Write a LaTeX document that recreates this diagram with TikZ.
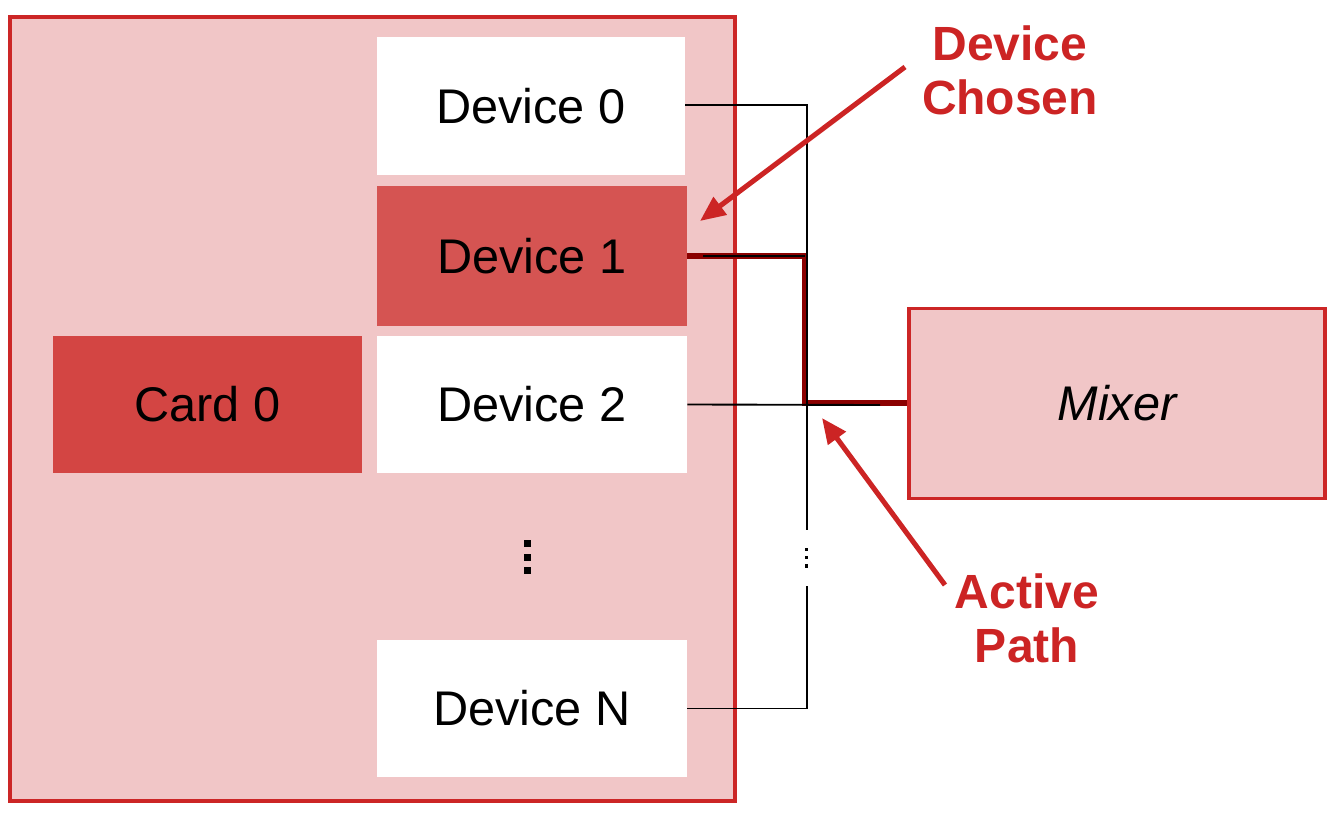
\documentclass[tikz,border=0pt]{standalone}
\usepackage{fontspec}
\setmainfont{Liberation Sans}
\usetikzlibrary{arrows.meta}
\definecolor{pinkbg}{HTML}{F1C6C7}
\definecolor{redline}{HTML}{CC2626}
\definecolor{devsel}{HTML}{D55452}
\definecolor{cardred}{HTML}{D34543}
\definecolor{darkred}{HTML}{8B0000}
\definecolor{labred}{HTML}{CC2424}
\tikzset{
  px/.style={x=0.75pt,y=-0.75pt},
  big/.style={font=\fontsize{36.5}{40}\selectfont},
  frame/.style={draw=redline,line width=2.4pt,fill=pinkbg,inner sep=0pt},
  devbox/.style={fill=white,draw=none,inner sep=0pt,big},
  selbox/.style={fill=devsel,draw=none,inner sep=0pt,big},
  cardbox/.style={fill=cardred,draw=none,inner sep=0pt,big},
  wire/.style={black,line width=1.4pt},
  active/.style={darkred,line width=3.8pt},
  callout/.style={labred,line width=3.8pt,-{Triangle[length=19pt,width=16pt]}},
  calltext/.style={labred,font=\fontsize{36}{40.5}\bfseries\selectfont,align=center},
  dot/.style={fill=black,draw=none}
}
\begin{document}
\begin{tikzpicture}[px]
\useasboundingbox (0,0) rectangle (1340,817);
% outer card frame
\node[frame,minimum width=725*0.75pt,minimum height=784*0.75pt] (outer) at (372.5,409) {};
% devices
\node[devbox,minimum width=308*0.75pt,minimum height=138*0.75pt] (d0) at (531,106) {Device 0};
\node[selbox,minimum width=310*0.75pt,minimum height=140*0.75pt] (d1) at (532,256) {Device 1};
\node[devbox,minimum width=310*0.75pt,minimum height=137*0.75pt] (d2) at (532,404.5) {Device 2};
\node[devbox,minimum width=310*0.75pt,minimum height=137*0.75pt] (dN) at (532,708.5) {Device N};
\node[cardbox,minimum width=309*0.75pt,minimum height=137*0.75pt] (card) at (207.5,404.5) {Card 0};
% vertical dots between devices
\fill[dot] (523.5,540) rectangle (530.5,547);
\fill[dot] (523.5,553.5) rectangle (530.5,560.5);
\fill[dot] (523.5,567) rectangle (530.5,574);
% mixer
\node[frame,minimum width=416*0.75pt,minimum height=190*0.75pt,font=\fontsize{36.5}{40}\itshape\selectfont] (mixer) at (1117,403.5) {Mixer};
% bus coordinates
\coordinate (top) at (807,105);
\coordinate (gapt) at (807,530);
\coordinate (gapb) at (807,586);
\coordinate (d1w) at (703,256);
\coordinate (d1b) at (805,256);
\coordinate (d2b) at (880,405);
\coordinate (ab) at (805,256);
\coordinate (ac) at (805,403);
% active path
\draw[active] (d1.east) -- (ab) -- (ac) -- (ac -| mixer.west);
% wires
\draw[wire] (d0.east |- top) -- (top) -- (gapt);
\draw[wire] (dN.east) -| (gapb);
\draw[wire] (d2.east) -- (d2b);
\draw[wire] (d1w) -- (d1b);
% dots on bus
\fill[dot] (804.5,547.5) rectangle (808,551);
\fill[dot] (804.5,555.5) rectangle (808,559);
\fill[dot] (804.5,564) rectangle (808,567.5);
% callouts
\node[calltext] (chosen) at (1010,70) {Device\\Chosen};
\node[calltext] (apath) at (1027,618) {Active\\Path};
\coordinate (c1s) at (905,67);
\coordinate (c1t) at (700,221);
\coordinate (c2s) at (945,585);
\coordinate (c2t) at (822,418);
\draw[callout] (c1s) -- (c1t);
\draw[callout] (c2s) -- (c2t);
\end{tikzpicture}
\end{document}
